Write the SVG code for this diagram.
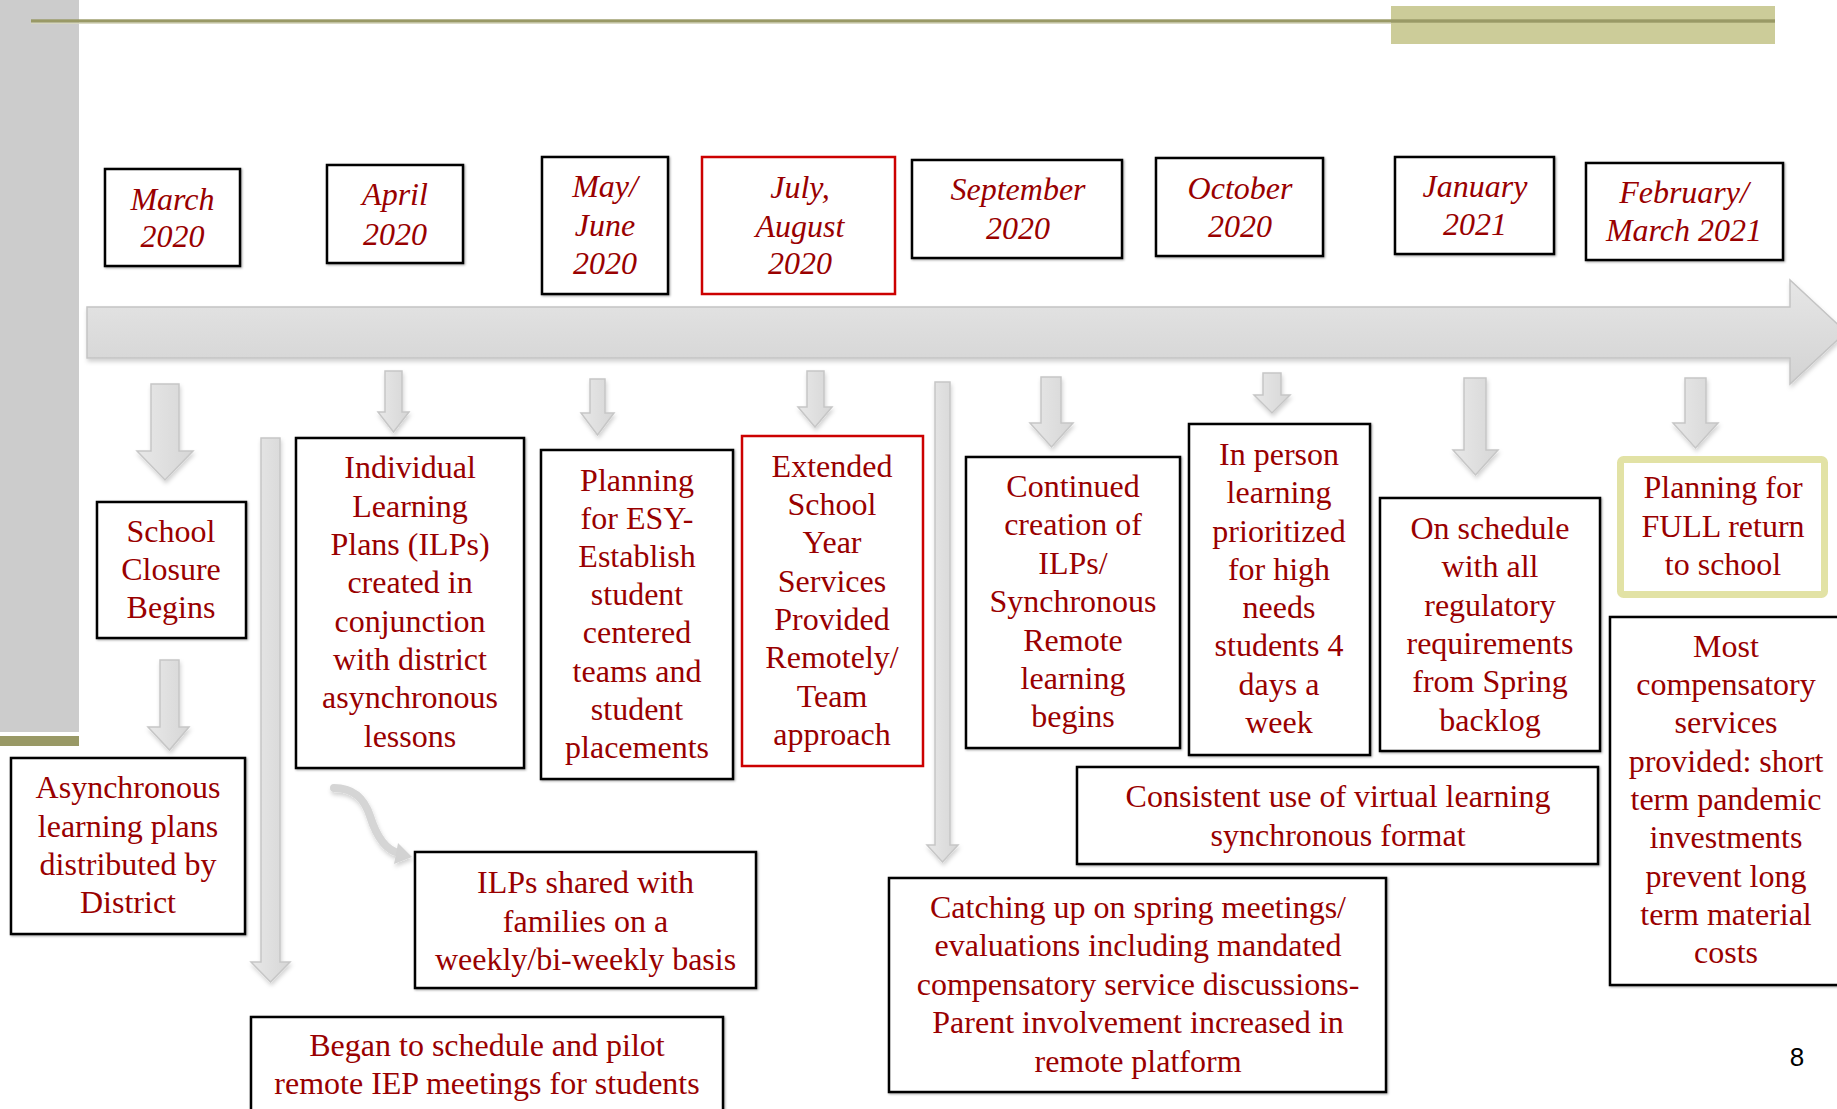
<svg xmlns="http://www.w3.org/2000/svg" width="1837" height="1109" viewBox="0 0 1837 1109">
<defs>
  <linearGradient id="gMain" x1="0" y1="0" x2="0" y2="1">
    <stop offset="0" stop-color="#e6e6e6"/>
    <stop offset="1" stop-color="#d3d3d3"/>
  </linearGradient>
  <linearGradient id="gDown" x1="0" y1="0" x2="1" y2="0">
    <stop offset="0" stop-color="#e8e8e8"/>
    <stop offset="1" stop-color="#d6d6d6"/>
  </linearGradient>
  <filter id="shadow" x="-20%" y="-20%" width="140%" height="140%">
    <feDropShadow dx="1" dy="3" stdDeviation="2" flood-color="#000" flood-opacity="0.18"/>
  </filter>
  <filter id="boxsh" x="-5%" y="-5%" width="110%" height="110%">
    <feDropShadow dx="1" dy="1" stdDeviation="0.8" flood-color="#000" flood-opacity="0.35"/>
  </filter>
</defs>
<style>
  .box { fill: #ffffff; stroke: #000000; stroke-width: 2.5; filter: url(#boxsh); }
  .rbox { fill: #ffffff; stroke: #cc0000; stroke-width: 2.5; }
  .fbox { fill: #ffffff; stroke: #e2e2a5; stroke-width: 7; }
  .t { font-family: "Liberation Serif", "Times New Roman", serif; font-size: 32px; fill: #990000; text-anchor: middle; }
  .d { font-style: italic; }
  .arr { fill: url(#gDown); stroke: #c6c6c6; stroke-width: 1.5; filter: url(#shadow); }
</style>

<g id="background">
  <rect x="0" y="0" width="79" height="732" fill="#cccccc"/>
  <rect x="0" y="736" width="79" height="10" fill="#999966"/>
  <rect x="1391" y="6" width="384" height="38" fill="#cccc99"/>
  <rect x="31" y="19.3" width="1744" height="3.4" fill="#999966"/>
  <rect x="31" y="22.7" width="1360" height="1.2" fill="#d8d8bf"/>
</g>

<g id="timeline">
  <path d="M87,307 L1790,307 L1790,280 L1846,332 L1790,384 L1790,358 L87,358 Z" fill="url(#gMain)" stroke="#c4c4c4" stroke-width="1.5" filter="url(#shadow)"/>
</g>

<g id="connectors">
  <path class="arr" d="M151,384 H179 V451 H193 L165,480 L137,451 H151 Z"/>
  <path class="arr" d="M160,660 H179 V727 H189 L169.5,750 L148,727 H160 Z"/>
  <path class="arr" d="M385,371 H402 V412 H409 L393.5,432 L378,412 H385 Z"/>
  <path class="arr" d="M590,379 H605 V413 H614 L597.5,435 L581,413 H590 Z"/>
  <path class="arr" d="M807,371 H824 V407 H832 L815,427 L798,407 H807 Z"/>
  <path class="arr" d="M261,438 H280 V962 H290 L270.5,982 L251,962 H261 Z"/>
  <path class="arr" d="M935,382 H950 V845 H958 L942.5,862 L927,845 H935 Z"/>
  <path class="arr" d="M1041,377 H1061 V423 H1073 L1051.5,447 L1030,423 H1041 Z"/>
  <path class="arr" d="M1263,373 H1281 V395 H1290 L1272,413 L1254,395 H1263 Z"/>
  <path class="arr" d="M1464,378 H1486 V450 H1498 L1475.5,475 L1453,450 H1464 Z"/>
  <path class="arr" d="M1685,378 H1706 V423 H1718 L1695.5,448 L1673,423 H1685 Z"/>
  <g filter="url(#shadow)">
    <path d="M334,788 C356,788 365,801 370,816 C376,835 385,850 399,853" fill="none" stroke="#d5d5d5" stroke-width="8" stroke-linecap="round"/>
    <polygon points="398,843 412,857 394,864" fill="#d2d2d2"/>
  </g>
</g>

<g id="date-march"><rect class="box" x="105" y="169" width="135" height="97"/>
  <text class="t d"><tspan x="172.5" y="210">March</tspan><tspan x="172.5" y="247">2020</tspan></text></g>
<g id="date-april"><rect class="box" x="327" y="165" width="136" height="98"/>
  <text class="t d"><tspan x="395" y="205">April</tspan><tspan x="395" y="245">2020</tspan></text></g>
<g id="date-mayjune"><rect class="box" x="542" y="157" width="126" height="137"/>
  <text class="t d"><tspan x="605" y="197">May/</tspan><tspan x="605" y="236">June</tspan><tspan x="605" y="274">2020</tspan></text></g>
<g id="date-julyaug"><rect class="rbox" x="702" y="157" width="193" height="137"/>
  <text class="t d"><tspan x="800" y="198">July,</tspan><tspan x="800" y="237">August</tspan><tspan x="800" y="274">2020</tspan></text></g>
<g id="date-sept"><rect class="box" x="912" y="160" width="210" height="98"/>
  <text class="t d"><tspan x="1018" y="200">September</tspan><tspan x="1018" y="239">2020</tspan></text></g>
<g id="date-oct"><rect class="box" x="1156" y="158" width="167" height="98"/>
  <text class="t d"><tspan x="1240" y="199">October</tspan><tspan x="1240" y="237">2020</tspan></text></g>
<g id="date-jan"><rect class="box" x="1395" y="157" width="159" height="97"/>
  <text class="t d"><tspan x="1475" y="197">January</tspan><tspan x="1475" y="235">2021</tspan></text></g>
<g id="date-febmar"><rect class="box" x="1586" y="163" width="197" height="97"/>
  <text class="t d"><tspan x="1684" y="203">February/</tspan><tspan x="1684" y="241">March 2021</tspan></text></g>

<g id="school-closure"><rect class="box" x="97" y="502" width="149" height="136"/>
  <text class="t"><tspan x="171" y="542">School</tspan><tspan x="171" y="580">Closure</tspan><tspan x="171" y="618">Begins</tspan></text></g>
<g id="async-plans"><rect class="box" x="11" y="758" width="234" height="176"/>
  <text class="t"><tspan x="128" y="798">Asynchronous</tspan><tspan x="128" y="837">learning plans</tspan><tspan x="128" y="875">distributed by</tspan><tspan x="128" y="913">District</tspan></text></g>
<g id="ilp"><rect class="box" x="296" y="438" width="228" height="330"/>
  <text class="t"><tspan x="410" y="478">Individual</tspan><tspan x="410" y="517">Learning</tspan><tspan x="410" y="555">Plans (ILPs)</tspan><tspan x="410" y="593">created in</tspan><tspan x="410" y="632">conjunction</tspan><tspan x="410" y="670">with district</tspan><tspan x="410" y="708">asynchronous</tspan><tspan x="410" y="747">lessons</tspan></text></g>
<g id="esy-planning"><rect class="box" x="541" y="450" width="192" height="329"/>
  <text class="t"><tspan x="637" y="491">Planning</tspan><tspan x="637" y="529">for ESY-</tspan><tspan x="637" y="567">Establish</tspan><tspan x="637" y="605">student</tspan><tspan x="637" y="643">centered</tspan><tspan x="637" y="682">teams and</tspan><tspan x="637" y="720">student</tspan><tspan x="637" y="758">placements</tspan></text></g>
<g id="esy-services"><rect class="rbox" x="742" y="436" width="181" height="330"/>
  <text class="t"><tspan x="832" y="477">Extended</tspan><tspan x="832" y="515">School</tspan><tspan x="832" y="553">Year</tspan><tspan x="832" y="592">Services</tspan><tspan x="832" y="630">Provided</tspan><tspan x="832" y="668">Remotely/</tspan><tspan x="832" y="707">Team</tspan><tspan x="832" y="745">approach</tspan></text></g>
<g id="continued-ilps"><rect class="box" x="966" y="457" width="214" height="291"/>
  <text class="t"><tspan x="1073" y="497">Continued</tspan><tspan x="1073" y="535">creation of</tspan><tspan x="1073" y="574">ILPs/</tspan><tspan x="1073" y="612">Synchronous</tspan><tspan x="1073" y="651">Remote</tspan><tspan x="1073" y="689">learning</tspan><tspan x="1073" y="727">begins</tspan></text></g>
<g id="in-person"><rect class="box" x="1189" y="424" width="181" height="331"/>
  <text class="t"><tspan x="1279" y="465">In person</tspan><tspan x="1279" y="503">learning</tspan><tspan x="1279" y="542">prioritized</tspan><tspan x="1279" y="580">for high</tspan><tspan x="1279" y="618">needs</tspan><tspan x="1279" y="656">students 4</tspan><tspan x="1279" y="695">days a</tspan><tspan x="1279" y="733">week</tspan></text></g>
<g id="on-schedule"><rect class="box" x="1380" y="498" width="220" height="253"/>
  <text class="t"><tspan x="1490" y="539">On schedule</tspan><tspan x="1490" y="577">with all</tspan><tspan x="1490" y="616">regulatory</tspan><tspan x="1490" y="654">requirements</tspan><tspan x="1490" y="692">from Spring</tspan><tspan x="1490" y="731">backlog</tspan></text></g>
<g id="full-return"><rect class="fbox" x="1620.5" y="459.5" width="204" height="135" rx="3"/>
  <text class="t"><tspan x="1723" y="498">Planning for</tspan><tspan x="1723" y="537">FULL return</tspan><tspan x="1723" y="575">to school</tspan></text></g>
<g id="compensatory"><rect class="box" x="1610" y="617" width="232" height="368"/>
  <text class="t"><tspan x="1726" y="657">Most</tspan><tspan x="1726" y="695">compensatory</tspan><tspan x="1726" y="733">services</tspan><tspan x="1726" y="772">provided: short</tspan><tspan x="1726" y="810">term pandemic</tspan><tspan x="1726" y="848">investments</tspan><tspan x="1726" y="887">prevent long</tspan><tspan x="1726" y="925">term material</tspan><tspan x="1726" y="963">costs</tspan></text></g>
<g id="virtual-learning"><rect class="box" x="1077" y="767" width="521" height="97"/>
  <text class="t"><tspan x="1338" y="807">Consistent use of virtual learning</tspan><tspan x="1338" y="846">synchronous format</tspan></text></g>
<g id="catching-up"><rect class="box" x="889" y="878" width="497" height="214"/>
  <text class="t"><tspan x="1138" y="918">Catching up on spring meetings/</tspan><tspan x="1138" y="956">evaluations including mandated</tspan><tspan x="1138" y="995">compensatory service discussions-</tspan><tspan x="1138" y="1033">Parent involvement increased in</tspan><tspan x="1138" y="1072">remote platform</tspan></text></g>
<g id="ilps-shared"><rect class="box" x="415" y="852" width="341" height="136"/>
  <text class="t"><tspan x="585.5" y="893">ILPs shared with</tspan><tspan x="585.5" y="932">families on a</tspan><tspan x="585.5" y="970">weekly/bi-weekly basis</tspan></text></g>
<g id="remote-iep"><rect class="box" x="251" y="1017" width="472" height="100"/>
  <text class="t"><tspan x="487" y="1056">Began to schedule and pilot</tspan><tspan x="487" y="1094">remote IEP meetings for students</tspan></text></g>

<text x="1797" y="1066" font-family="Liberation Sans, Arial, sans-serif" font-size="26" fill="#000000" text-anchor="middle">8</text>
</svg>
